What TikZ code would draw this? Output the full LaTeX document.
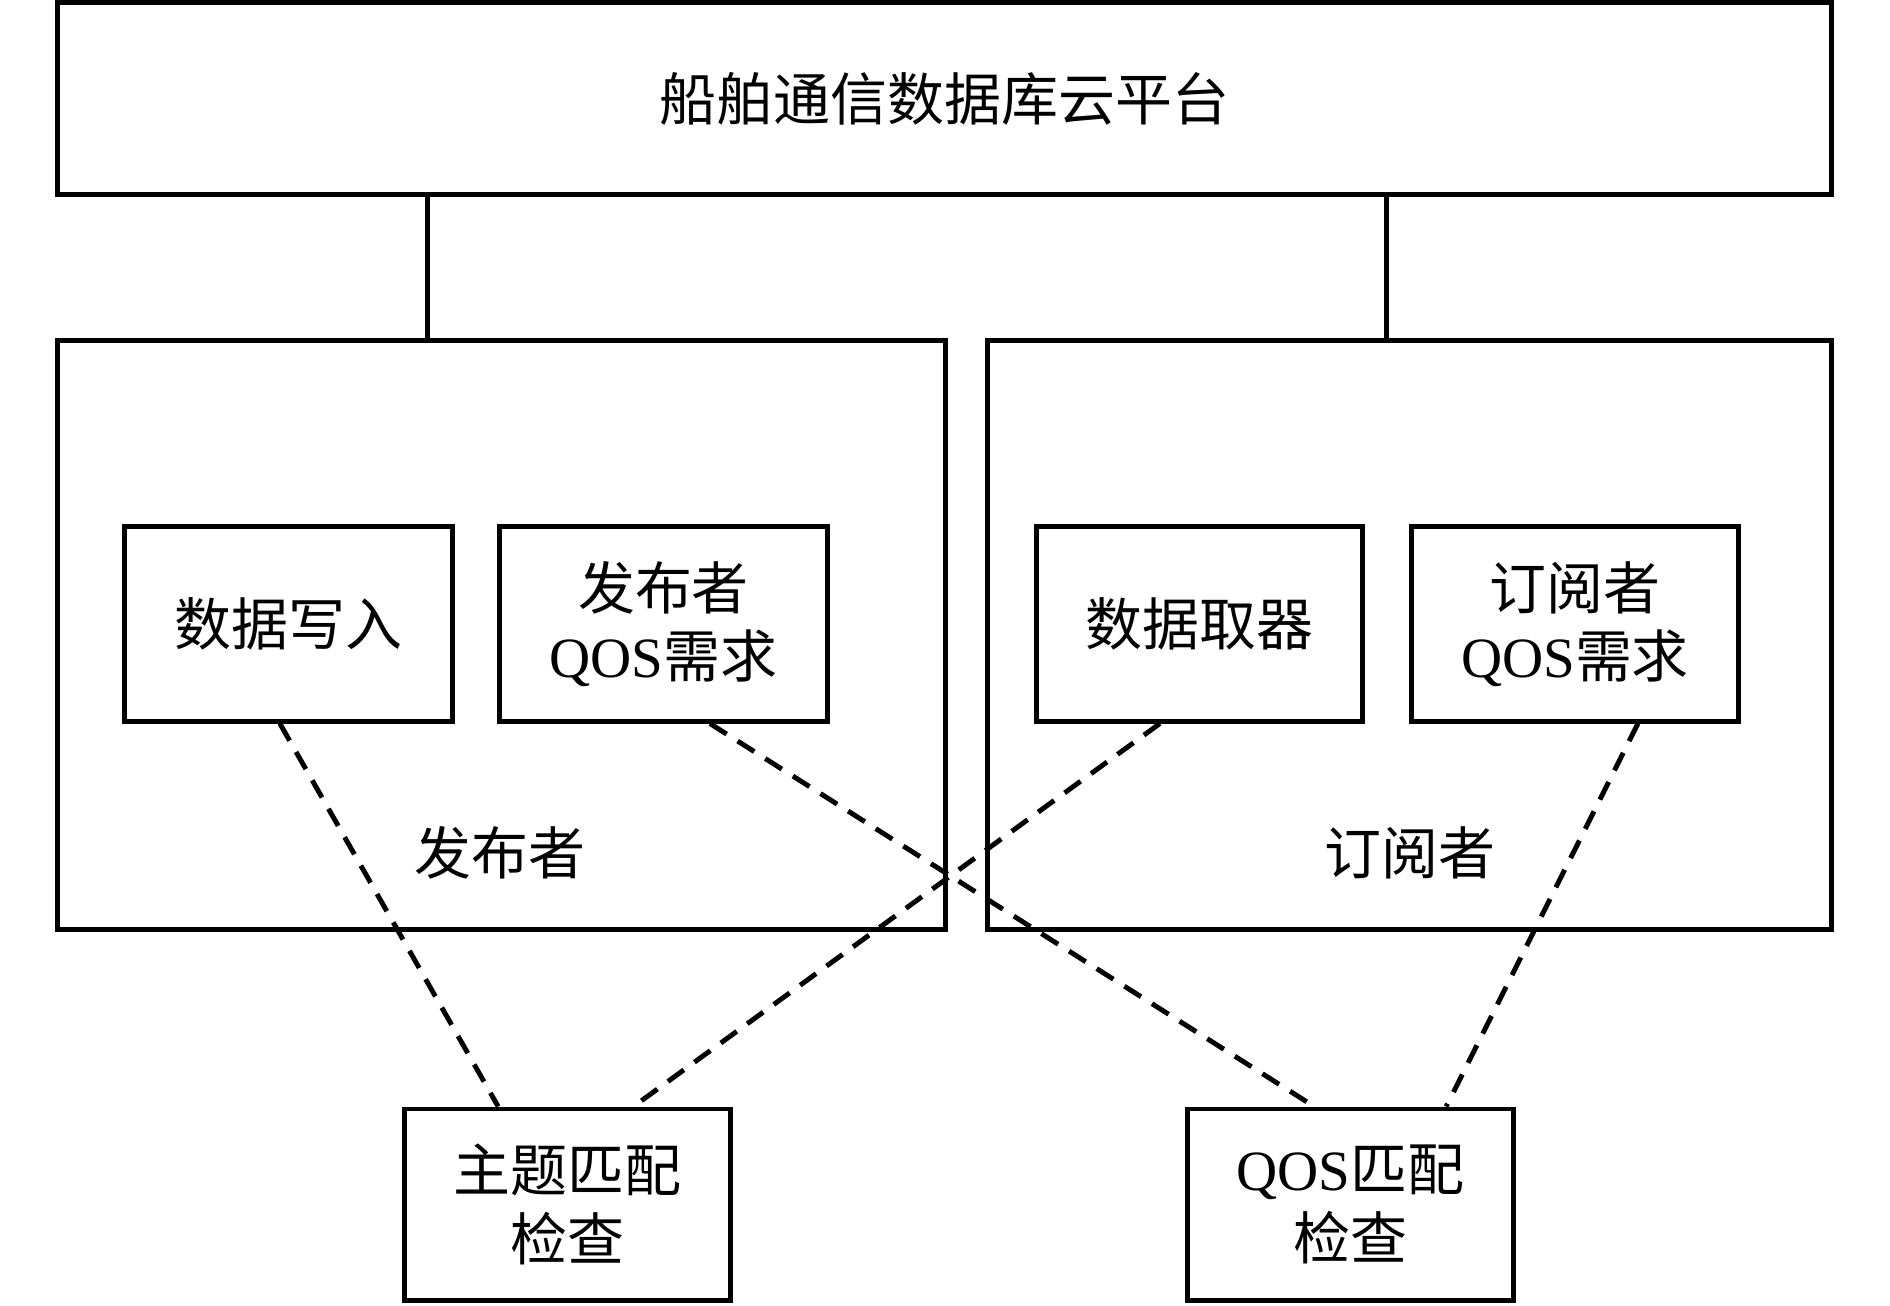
\documentclass[tikz,border=0pt]{standalone}
\usepackage{fontspec}
\setmainfont{Liberation Serif}
\newfontfamily\cjk{Noto Sans CJK SC}
\newcommand\zh[1]{{\cjk #1}}
\usetikzlibrary{calc}
\begin{document}
\begin{tikzpicture}[x=0.01cm, y=-0.01cm, line width=1.4pt,
  every node/.style={font=\fontsize{16.2}{19.5}\selectfont},
  box/.style={draw, align=center, inner sep=0pt},
  link/.style={dash pattern=on 5.6pt off 3.7pt}]
\useasboundingbox (0,0) rectangle (1890,1305);
% cloud platform
\node[box, minimum width=17.73cm, minimum height=1.91cm] (cloud) at (944.5,98.5) {\zh{船舶通信数据库云平台}};
% publisher and subscriber
\node[box, minimum width=8.87cm, minimum height=5.88cm] (pub) at (501.5,635) {};
\node[box, minimum width=8.43cm, minimum height=5.88cm] (sub) at (1409.5,635) {};
\node (publbl) at (500,853) {\zh{发布者}};
\node (sublbl) at (1410,853) {\zh{订阅者}};
\node[box, minimum width=3.27cm, minimum height=1.94cm] (write) at (288.5,624) {\zh{数据写入}};
\node[box, minimum width=3.27cm, minimum height=1.94cm] (pubqos) at (663.5,624) {\zh{发布者}\\QOS\zh{需求}};
\node[box, minimum width=3.25cm, minimum height=1.94cm] (read) at (1199.5,624) {\zh{数据取器}};
\node[box, minimum width=3.26cm, minimum height=1.94cm] (subqos) at (1575,624) {\zh{订阅者}\\QOS\zh{需求}};
% checks
\node[box, minimum width=3.25cm, minimum height=1.91cm] (topic) at (567.5,1204.5) {\zh{主题匹配}\\\zh{检查}};
\node[box, minimum width=3.25cm, minimum height=1.91cm] (qos) at (1350.5,1204.5) {QOS\zh{匹配}\\\zh{检查}};
% links to the platform
\draw ($(pub.north west)!0.417!(pub.north east)$) coordinate (pl) -- (pl |- cloud.south);
\draw ($(sub.north west)!0.473!(sub.north east)$) coordinate (sl) -- (sl |- cloud.south);
% matching
\draw[link] ($(write.south west)!0.474!(write.south east)$) -- ($(topic.north west)!0.29!(topic.north east)$);
\draw[link] ($(read.south west)!0.38!(read.south east)$) -- ($(topic.north west)!0.70!(topic.north east)$);
\draw[link] ($(pubqos.south west)!0.64!(pubqos.south east)$) -- ($(qos.north west)!0.39!(qos.north east)$);
\draw[link] ($(subqos.south west)!0.69!(subqos.south east)$) -- ($(qos.north west)!0.79!(qos.north east)$);
\end{tikzpicture}
\end{document}
